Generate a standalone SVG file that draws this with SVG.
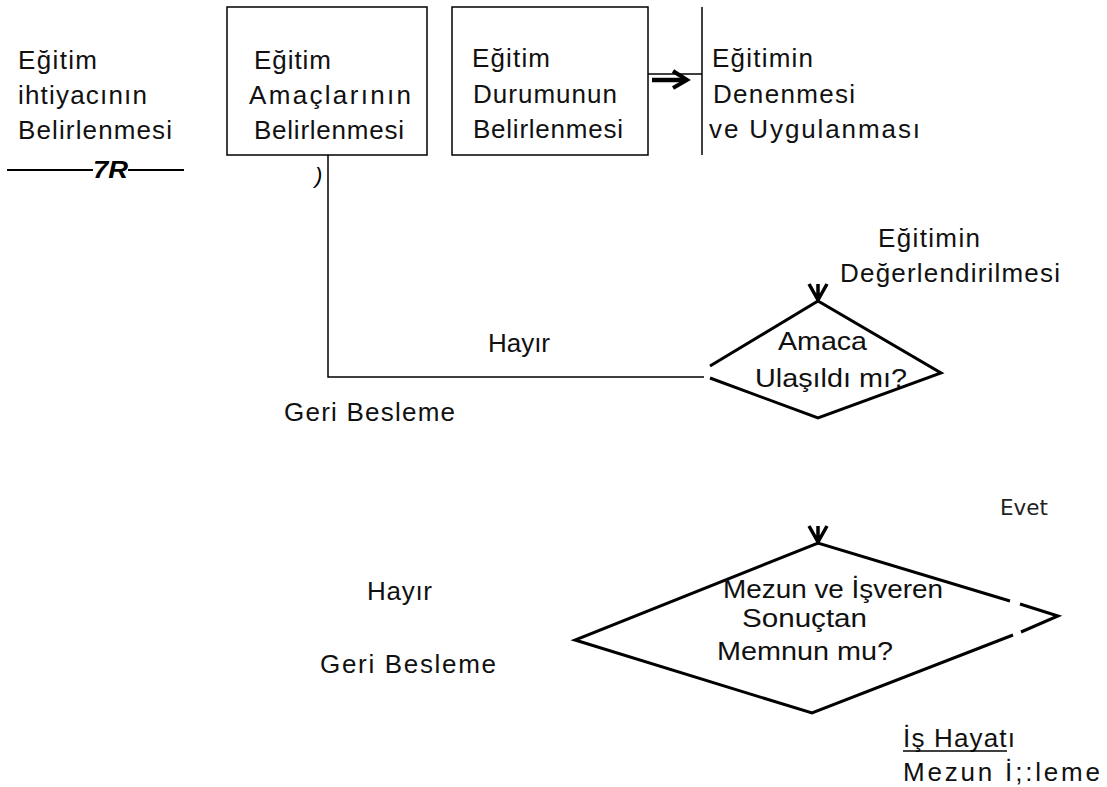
<svg xmlns="http://www.w3.org/2000/svg" width="1107" height="787" viewBox="0 0 1107 787">
<style>
.t{font-family:"Liberation Sans",Arial,sans-serif;font-size:26px;fill:#111}
.d{font-family:"Liberation Sans",Arial,sans-serif;font-size:25px;fill:#111}
.box{fill:none;stroke:#000;stroke-width:1.5}
.ln{fill:none;stroke:#000;stroke-width:1.5}
.dia{fill:none;stroke:#000;stroke-width:3;stroke-linejoin:miter}
.ar{fill:none;stroke:#000;stroke-width:3.5}
</style>
<rect width="1107" height="787" fill="#fff"/>
<g id="connectors">
<polyline class="ln" points="328,155 328,377 704,377"/>
<line class="ln" x1="648" y1="74" x2="702" y2="74"/>
<line class="ln" x1="702" y1="7" x2="702" y2="155"/>
<path d="M652,80 H684" stroke="#000" stroke-width="4.5" fill="none"/>
<path d="M673,71 L687,80 L673,88" stroke="#000" stroke-width="4" fill="none"/>
<path class="ar" d="M809,284 L818,300 L827,284 M818,284 V300"/>
<path class="ar" d="M809,526 L818,542 L827,526 M818,526 V542"/>
<line x1="7" y1="170" x2="93" y2="170" stroke="#000" stroke-width="2"/>
<line x1="128" y1="170" x2="184" y2="170" stroke="#000" stroke-width="2"/>
</g>
<g id="n-ihtiyac">
<text class="t" x="18" y="69" textLength="79" lengthAdjust="spacing">Eğitim</text>
<text class="t" x="18" y="104" textLength="129" lengthAdjust="spacing">ihtiyacının</text>
<text class="t" x="18" y="139" textLength="154" lengthAdjust="spacing">Belirlenmesi</text>
<text x="93" y="178" font-family="'Liberation Sans',Arial,sans-serif" font-size="24" font-weight="bold" font-style="italic" textLength="35" lengthAdjust="spacingAndGlyphs">7R</text>
</g>
<g id="n-amac">
<rect class="box" x="227" y="7" width="200" height="148"/>
<text class="t" x="254" y="69" textLength="77" lengthAdjust="spacing">Eğitim</text>
<text class="t" x="249" y="104" textLength="162" lengthAdjust="spacing">Amaçlarının</text>
<text class="t" x="254" y="139" textLength="150" lengthAdjust="spacing">Belirlenmesi</text>
<text x="315" y="183" font-family="'Liberation Sans',Arial,sans-serif" font-size="22" font-style="italic">)</text>
</g>
<g id="n-durum">
<rect class="box" x="452" y="7" width="196" height="148"/>
<text class="t" x="472" y="67" textLength="78" lengthAdjust="spacing">Eğitim</text>
<text class="t" x="473" y="103" textLength="144" lengthAdjust="spacing">Durumunun</text>
<text class="t" x="473" y="138" textLength="150" lengthAdjust="spacing">Belirlenmesi</text>
</g>
<g id="n-deneme">
<text class="t" x="712" y="67" textLength="101" lengthAdjust="spacing">Eğitimin</text>
<text class="t" x="713" y="103" textLength="142" lengthAdjust="spacing">Denenmesi</text>
<text class="t" x="709" y="138" textLength="211" lengthAdjust="spacing">ve Uygulanması</text>
</g>
<g id="n-deger">
<text class="t" x="878" y="247" textLength="102" lengthAdjust="spacing">Eğitimin</text>
<text class="t" x="840" y="282" textLength="220" lengthAdjust="spacing">Değerlendirilmesi</text>
</g>
<g id="n-amaca">
<polyline class="dia" points="710,366 818,301 941,373 818,418 710,378"/>
<text class="d" x="778" y="350" textLength="89" lengthAdjust="spacingAndGlyphs">Amaca</text>
<text class="d" x="755" y="387" textLength="152" lengthAdjust="spacingAndGlyphs">Ulaşıldı mı?</text>
</g>
<g id="n-labels">
<text class="t" x="488" y="352" textLength="62" lengthAdjust="spacing">Hayır</text>
<text class="t" x="284" y="421" textLength="171" lengthAdjust="spacing">Geri Besleme</text>
<text x="1000" y="515" font-family="'DejaVu Sans',sans-serif" font-size="22" fill="#222" textLength="48" lengthAdjust="spacingAndGlyphs">Evet</text>
<text class="t" x="367" y="600" textLength="65" lengthAdjust="spacing">Hayır</text>
<text class="t" x="320" y="673" textLength="176" lengthAdjust="spacing">Geri Besleme</text>
</g>
<g id="n-memnun">
<polyline class="dia" points="1010,601 818,543 575,640 812,713 1013,635"/>
<polyline class="dia" points="1020,604 1058,616 1021,632"/>
<text class="d" x="723" y="598" textLength="220" lengthAdjust="spacingAndGlyphs">Mezun ve İşveren</text>
<text class="d" x="742" y="627" textLength="125" lengthAdjust="spacingAndGlyphs">Sonuçtan</text>
<text class="d" x="717" y="660" textLength="176" lengthAdjust="spacingAndGlyphs">Memnun mu?</text>
</g>
<g id="n-is">
<text class="t" x="903" y="747" textLength="112" lengthAdjust="spacing">İş Hayatı</text>
<line x1="903" y1="751" x2="1007" y2="751" stroke="#000" stroke-width="1.5"/>
<text class="t" x="903" y="781" textLength="197" lengthAdjust="spacing">Mezun İ;:leme</text>
</g>
</svg>
